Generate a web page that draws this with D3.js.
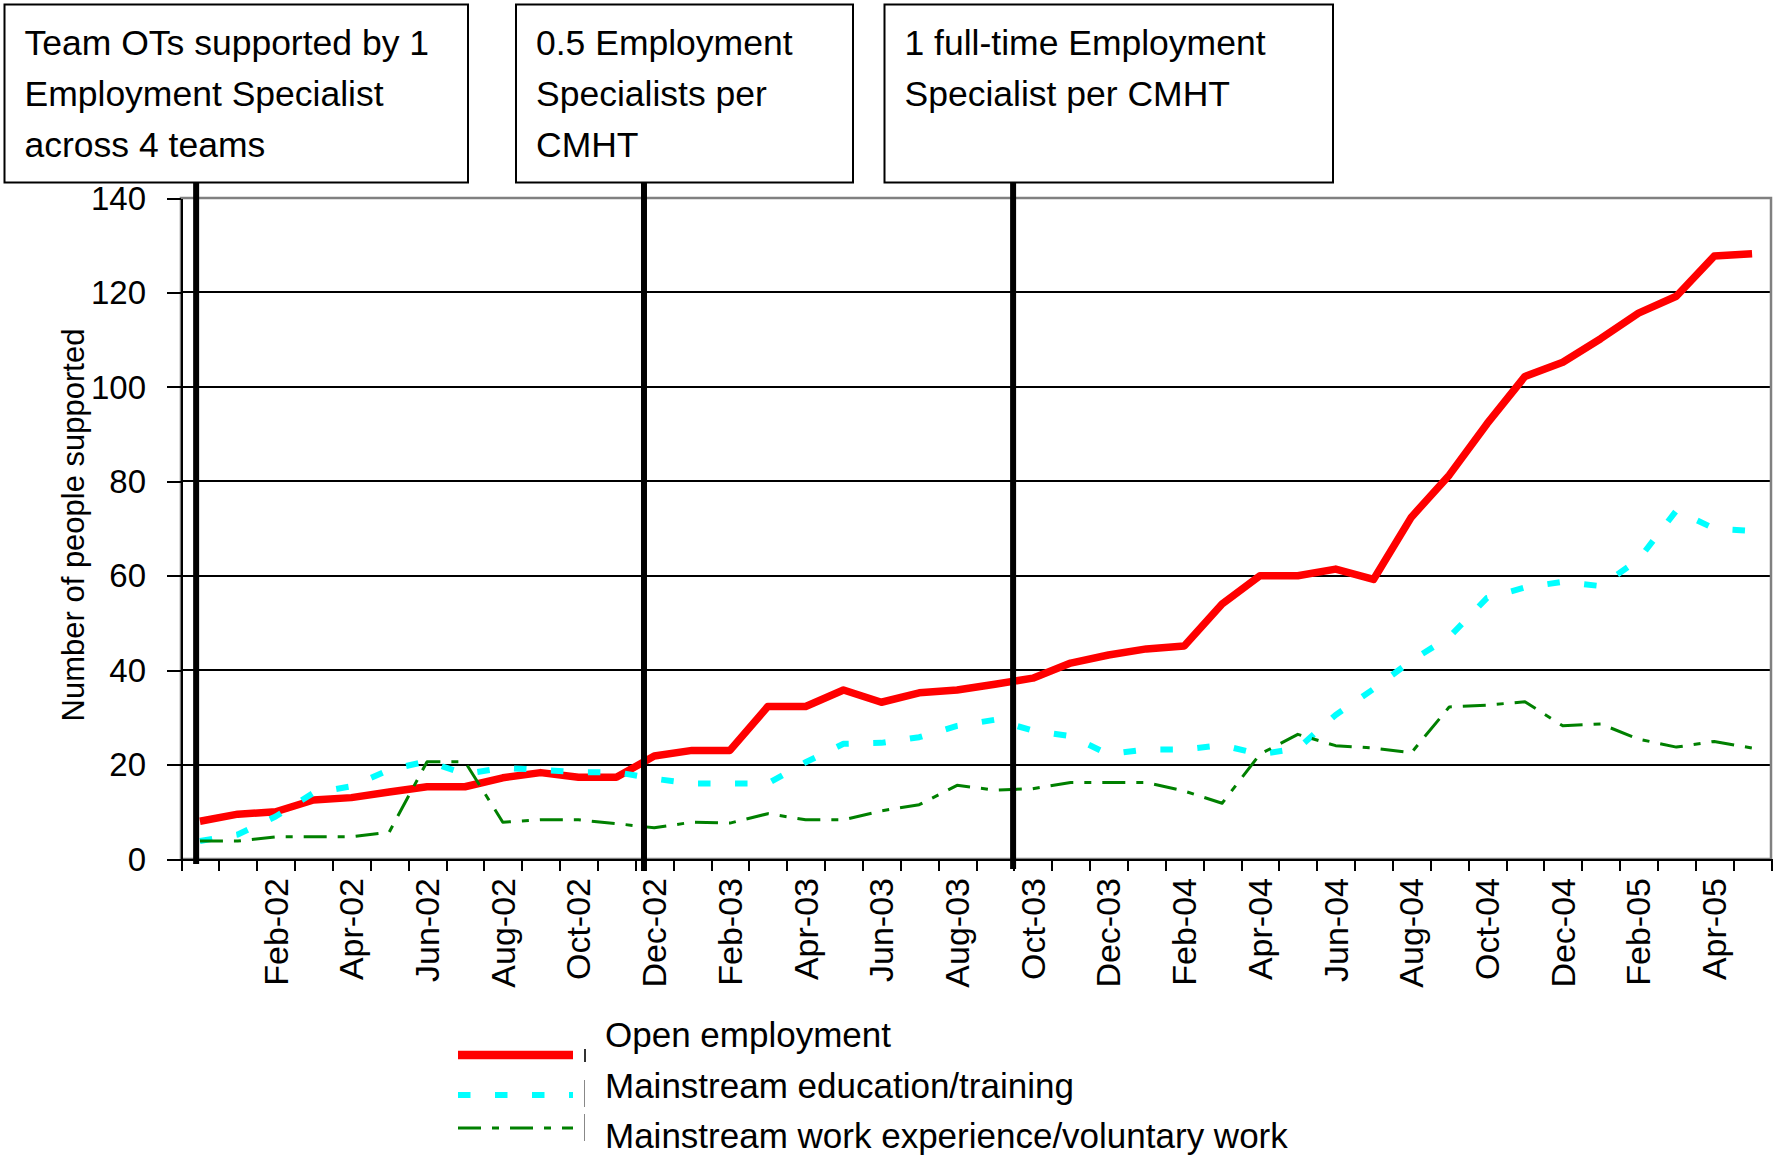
<!DOCTYPE html>
<html>

<head>
    <title>Number of people supported</title>
    <script src="https://d3js.org/d3.v7.min.js"></script>
    <style>
        body {
            margin: 0;
            background: #fff;
        }

        svg text {
            font-family: "Liberation Sans", Arial, sans-serif;
            fill: #000;
        }

        .axis path,
        .axis line {
            stroke: #000;
            stroke-width: 2px;
            shape-rendering: crispEdges;
        }

        .grid line {
            stroke: #000;
            stroke-width: 2px;
            shape-rendering: crispEdges;
        }
    </style>
</head>

<body>
    <script>
        // categories: one per month, Dec-01 .. May-05
        var months = [
            "Dec-01",
            "Jan-02", "Feb-02", "Mar-02", "Apr-02", "May-02", "Jun-02", "Jul-02", "Aug-02", "Sep-02", "Oct-02", "Nov-02", "Dec-02",
            "Jan-03", "Feb-03", "Mar-03", "Apr-03", "May-03", "Jun-03", "Jul-03", "Aug-03", "Sep-03", "Oct-03", "Nov-03", "Dec-03",
            "Jan-04", "Feb-04", "Mar-04", "Apr-04", "May-04", "Jun-04", "Jul-04", "Aug-04", "Sep-04", "Oct-04", "Nov-04", "Dec-04",
            "Jan-05", "Feb-05", "Mar-05", "Apr-05", "May-05"
        ];

        // labels printed under the axis (every second month)
        var tickLabels = [
            "Feb-02", "Apr-02", "Jun-02", "Aug-02", "Oct-02", "Dec-02",
            "Feb-03", "Apr-03", "Jun-03", "Aug-03", "Oct-03", "Dec-03",
            "Feb-04", "Apr-04", "Jun-04", "Aug-04", "Oct-04", "Dec-04",
            "Feb-05", "Apr-05"
        ];

        var yTicks = [0, 20, 40, 60, 80, 100, 120, 140];

        var openEmployment = [8, 9.5, 10, 12.5, 13, 14.2, 15.3, 15.3, 17.2, 18.3, 17.3, 17.3, 21.8,
            23, 23, 32.3, 32.3, 35.8, 33.2, 35.2, 35.8, 37, 38.3, 41.5, 43.2,
            44.5, 45.1, 54, 60, 60, 61.4, 59.2, 72.4, 81.3, 92.2, 102.2, 105.2,
            110.2, 115.6, 119.2, 127.7, 128.2];

        var educationTraining = [3.8, 5.2, 9, 14, 15.4, 18.9, 20.7, 18, 19.3, 18.9, 18.4, 18.4, 17,
            16, 16, 16, 20.5, 24.4, 24.6, 25.8, 28.2, 29.5, 27.2, 26, 22.2,
            23.2, 23.2, 24.1, 22.2, 23.4, 30.5, 36, 42, 47, 55.3, 57.5, 58.7,
            57.8, 63.4, 73.8, 70, 69.5];

        var workExperience = [3.8, 3.8, 4.7, 4.7, 4.7, 5.7, 20.6, 20.6, 7.8, 8.3, 8.3, 7.5, 6.6,
            7.8, 7.6, 9.6, 8.3, 8.3, 10.2, 11.5, 15.6, 14.6, 14.9, 16.2, 16.2,
            16.2, 14.4, 11.8, 22.2, 26.4, 24, 23.5, 22.5, 32.2, 32.6, 33.3, 28.2,
            28.6, 25.4, 23.7, 24.9, 23.5];

        var seriesNames = [
            "Open employment",
            "Mainstream education/training",
            "Mainstream work experience/voluntary work"
        ];

        // staffing changes, in month units from the start of the axis
        var eventMonths = [0.4, 12.23, 21.98];
        var eventTexts = [
            ["Team OTs supported by 1", "Employment Specialist", "across 4 teams"],
            ["0.5 Employment", "Specialists per", "CMHT"],
            ["1 full-time Employment", "Specialist per CMHT"]
        ];

        // ---- layout / style ----
        var svgWidth = 1778, svgHeight = 1157;
        var plot = { left: 181, right: 1771, top: 198, bottom: 859 };
        var boxes = [
            { x: 4.5, w: 463.5, drop: 5 },
            { x: 516, w: 337, drop: 12 },
            { x: 884.5, w: 448.5, drop: 10 }
        ];
        var boxTop = 4.5, boxBottom = 182.5;
        var seriesStyle = [
            { color: "#ff0000", width: 7.5, dash: null, legendWidth: 8.5, legendY: 1055 },
            { color: "#00ffff", width: 6, dash: "12.5,24.5", legendWidth: 6, legendY: 1095 },
            { color: "#008000", width: 3, dash: "23,11,7,11", legendWidth: 3, legendY: 1128 }
        ];

        var svg = d3.select("body").append("svg")
            .attr("width", svgWidth)
            .attr("height", svgHeight);

        var xIdx = d3.scaleLinear().domain([0, months.length]).range([plot.left, plot.right]);
        var xBand = d3.scaleBand().domain(months).range([plot.left, plot.right]);
        var y = d3.scaleLinear().domain([0, 140]).range([plot.bottom, plot.top]);

        // gridlines
        svg.append("g")
            .attr("class", "grid")
            .selectAll("line")
            .data(yTicks.filter(function (d) { return d > 0 && d < 140; }))
            .enter().append("line")
            .attr("x1", plot.left)
            .attr("x2", plot.right)
            .attr("y1", function (d) { return y(d); })
            .attr("y2", function (d) { return y(d); });

        // plot border (grey)
        svg.append("rect")
            .attr("x", plot.left)
            .attr("y", plot.top)
            .attr("width", plot.right - plot.left)
            .attr("height", plot.bottom - plot.top)
            .attr("fill", "none")
            .attr("stroke", "#808080")
            .attr("stroke-width", 2.5);

        // y axis
        var yAxis = svg.append("g")
            .attr("class", "axis")
            .attr("transform", "translate(" + plot.left + ",0)")
            .call(d3.axisLeft(y).tickValues(yTicks).tickSize(14).tickSizeOuter(0).tickPadding(21));
        yAxis.selectAll("text")
            .style("font-size", "33px")
            .attr("dy", "0.34em");

        // x axis ticks at month boundaries
        svg.append("g")
            .attr("class", "axis")
            .attr("transform", "translate(0," + plot.bottom + ")")
            .call(d3.axisBottom(xIdx).tickValues(d3.range(months.length + 1)).tickFormat("").tickSize(12).tickSizeOuter(0));

        // x labels, rotated
        var xLab = svg.append("g")
            .attr("transform", "translate(0," + plot.bottom + ")")
            .call(d3.axisBottom(xBand).tickValues(tickLabels).tickSize(0));
        xLab.select(".domain").remove();
        xLab.selectAll("text")
            .style("font-size", "34px")
            .attr("text-anchor", "end")
            .attr("transform", "rotate(-90)")
            .attr("x", -19)
            .attr("y", 0)
            .attr("dy", "0.35em");

        // y title
        svg.append("text")
            .attr("transform", "translate(84,525) rotate(-90)")
            .attr("text-anchor", "middle")
            .style("font-size", "31px")
            .text("Number of people supported");

        // series
        var seriesData = [openEmployment, educationTraining, workExperience];
        var line = d3.line()
            .x(function (d, i) { return xIdx(i + 0.5); })
            .y(function (d) { return y(d); });

        seriesData.forEach(function (values, k) {
            var st = seriesStyle[k];
            svg.append("path")
                .datum(values)
                .attr("fill", "none")
                .attr("stroke", st.color)
                .attr("stroke-width", st.width)
                .attr("stroke-linejoin", "round")
                .attr("stroke-dasharray", st.dash)
                .attr("d", line);
        });

        // event lines
        svg.selectAll(".event")
            .data(eventMonths)
            .enter().append("line")
            .attr("class", "event")
            .attr("x1", function (d) { return xIdx(d); })
            .attr("x2", function (d) { return xIdx(d); })
            .attr("y1", boxBottom)
            .attr("y2", function (d, i) { return plot.bottom + boxes[i].drop; })
            .attr("stroke", "#000")
            .attr("stroke-width", 6);

        // callout boxes
        var box = svg.selectAll(".box")
            .data(eventTexts)
            .enter().append("g")
            .attr("class", "box");

        box.append("rect")
            .attr("x", function (d, i) { return boxes[i].x; })
            .attr("y", boxTop)
            .attr("width", function (d, i) { return boxes[i].w; })
            .attr("height", boxBottom - boxTop)
            .attr("fill", "#fff")
            .attr("stroke", "#000")
            .attr("stroke-width", 2);

        box.each(function (lines, i) {
            d3.select(this).selectAll("text")
                .data(lines)
                .enter().append("text")
                .attr("x", boxes[i].x + 20)
                .attr("y", function (d, j) { return 55 + j * 51; })
                .style("font-size", "35.5px")
                .text(function (d) { return d; });
        });

        // legend
        var legend = svg.append("g");
        seriesNames.forEach(function (name, k) {
            var st = seriesStyle[k];
            legend.append("line")
                .attr("x1", 458)
                .attr("x2", 573)
                .attr("y1", st.legendY)
                .attr("y2", st.legendY)
                .attr("stroke", st.color)
                .attr("stroke-width", st.legendWidth)
                .attr("stroke-dasharray", st.dash);
            legend.append("text")
                .attr("x", 605)
                .attr("y", 1047 + k * 50.5)
                .style("font-size", "35px")
                .text(name);
        });
        // small clipping remnants next to the legend keys
        legend.append("line")
            .attr("x1", 585).attr("x2", 585).attr("y1", 1049).attr("y2", 1062)
            .attr("stroke", "#333").attr("stroke-width", 2);
        legend.append("line")
            .attr("x1", 584.5).attr("x2", 584.5).attr("y1", 1080).attr("y2", 1107)
            .attr("stroke", "#888").attr("stroke-width", 1);
        legend.append("line")
            .attr("x1", 584.5).attr("x2", 584.5).attr("y1", 1114).attr("y2", 1141)
            .attr("stroke", "#888").attr("stroke-width", 1);
    </script>
</body>

</html>
